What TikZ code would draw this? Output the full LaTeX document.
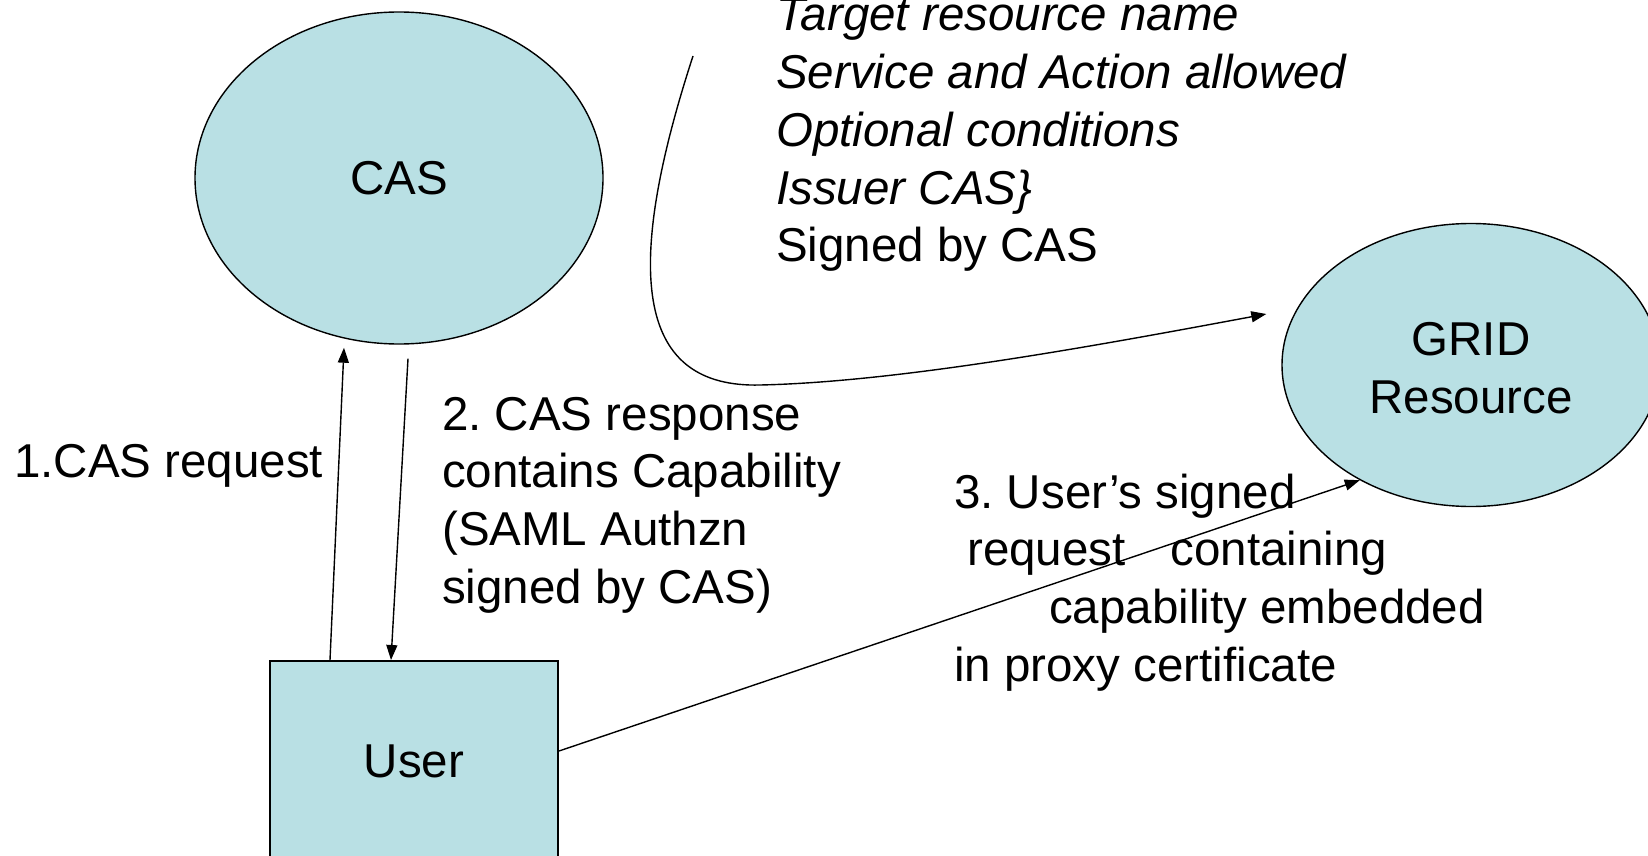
\documentclass[tikz,border=0pt]{standalone}
\usepackage{fontspec}
\setmainfont{Liberation Sans}
\usetikzlibrary{arrows.meta,shapes.geometric,calc}
\definecolor{nodefill}{RGB}{185,224,228}
\frenchspacing
\begin{document}
\begin{tikzpicture}[x=1pt,y=-1pt,
  every node/.style={font=\fontsize{47.5}{57.7}\selectfont},
  party/.style={ellipse,draw,line width=1.4pt,fill=nodefill,inner sep=0pt},
  actor/.style={rectangle,draw,line width=2pt,fill=nodefill,inner sep=0pt,
    minimum width=288pt,minimum height=200pt},
  lbl/.style={anchor=base west,inner sep=0pt},
  conn/.style={line width=1.4pt,-{Triangle[length=15pt,width=11pt]}}]
\useasboundingbox (0,0) rectangle (1648,856);

% parties
\node[party,minimum width=408pt,minimum height=332pt] (cas) at (399,178) {CAS};
\node[party,minimum width=378pt,minimum height=283pt,align=center] (grid) at (1471,365)
  {\rule{0pt}{40pt}GRID\\Resource};
\node[actor] (user) at (414,761) {User};

% capability contents
\node[lbl] (capinfo) at (776,31) {\begin{tabular}[t]{@{}l@{}}
  \itshape Target resource name\\
  \itshape Service and Action allowed\\
  \itshape Optional conditions\\
  \itshape Issuer CAS\}\\
  Signed by CAS\end{tabular}};

% step labels
\node[lbl] (step1) at (14,477) {1.CAS request};
\node[lbl] (step2) at (442,430) {\begin{tabular}[t]{@{}l@{}}
  2. CAS response\\
  contains Capability\\
  (SAML Authzn\\
  signed by CAS)\end{tabular}};
\node[lbl] (step3) at (954,508) {\begin{tabular}[t]{@{}l@{}}
  3. User’s signed\\
  \hspace{13pt}request\hspace{45pt}containing\\
  \hspace{95pt}capability embedded\\
  in proxy certificate\end{tabular}};

% connectors
\draw[conn] ($(user.north west)+(61,0)$) -- ($(cas.south)+(-55,3)$);
\draw[conn] ($(cas.south)+(9,14)$) -- ($(user.north west)+(122,0)$);
\draw[conn] ($(user.east)+(0,-10)$) -- (grid.226);
\coordinate (capstart) at (693,56);
\draw[conn] (capstart) .. controls (620,280) and (640,388) .. (760,385)
  .. controls (900,382) and (1100,345) .. ($(grid.west)+(-15,-51)$);
\end{tikzpicture}
\end{document}
